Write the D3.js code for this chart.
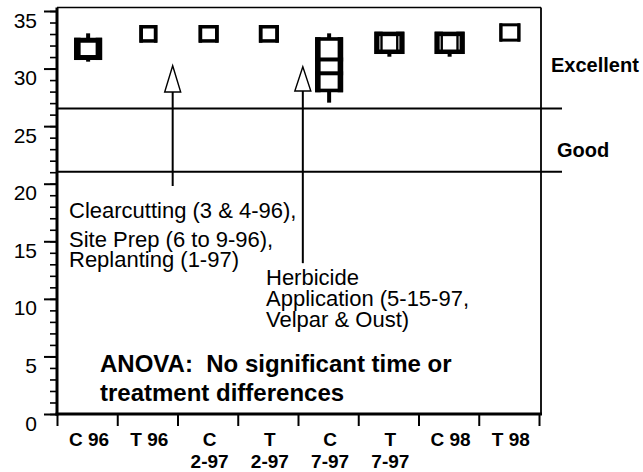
<!DOCTYPE html>
<html>
<head>
<meta charset="utf-8">
<script src="https://cdn.jsdelivr.net/npm/d3@7"></script>
<style>
  html, body { margin: 0; padding: 0; background: #fff; }
  svg { display: block; }
  text { font-family: "Liberation Sans", Arial, sans-serif; fill: #000; }
</style>
</head>
<body>
<svg id="chart" width="643" height="472"></svg>
<script>
// ---------------- data ----------------
const categories = ["C 96", "T 96", "C 2-97", "T 2-97", "C 7-97", "T 7-97", "C 98", "T 98"];
const categoryLabels = [["C 96"], ["T 96"], ["C", "2-97"], ["T", "2-97"], ["C", "7-97"], ["T", "7-97"], ["C 98"], ["T 98"]];
const whiskerHigh = [33.06, 33.63, 33.63, 33.63, 33.06, 33.01, 33.01, 33.80];
const upperQuartile = [32.46, 33.63, 33.63, 33.63, 32.57, 33.01, 33.01, 33.80];
const medianLine = [null, null, null, null, 30.79, null, null, null];
const meanLine = [null, null, null, null, 29.59, null, null, null];
const lowerQuartile = [30.96, 32.40, 32.40, 32.40, 28.10, 31.46, 31.46, 32.47];
const whiskerLow = [30.60, 32.40, 32.40, 32.40, 27.04, 31.03, 31.03, 32.47];
const yMajorTicks = [0, 5, 10, 15, 20, 25, 30, 35];
const yMinorTicks = d3.range(0, 36, 1);
const classBounds = [26.53, 21.04];   // Excellent / Good boundaries

// ---------------- styles (sizes of box symbols) ----------------
const boxStyle = [
  { w: 28, sw: 5,   side: 6.5, dbl: false },
  { w: 18, sw: 3.5, side: 3.5, dbl: false },
  { w: 20, sw: 3.5, side: 3.5, dbl: false },
  { w: 20, sw: 3.5, side: 3.5, dbl: false },
  { w: 28, sw: 3.6, side: 5.5, dbl: false },
  { w: 30, sw: 4.5, side: 8.3, dbl: true  },
  { w: 30, sw: 4.5, side: 8.3, dbl: true  },
  { w: 21, sw: 3,   side: 3,   dbl: false }
];

// ---------------- layout ----------------
const svg = d3.select("#chart");
const X0 = 57, X1 = 539, FRAME_R = 541;
const y = d3.scaleLinear().domain([0, 35]).range([414, 11]);
const x = d3.scaleBand().domain(categories).range([X0, X1]).padding(0);
const xi = d3.scaleLinear().domain([0, categories.length]).range([X0, X1]);
const yTop = y(35.3);

// frame (top and right)
svg.append("line").attr("x1", X0).attr("x2", FRAME_R).attr("y1", yTop).attr("y2", yTop)
  .attr("stroke", "#000").attr("stroke-width", 1.6);
svg.append("line").attr("x1", FRAME_R).attr("x2", FRAME_R).attr("y1", yTop).attr("y2", y(0))
  .attr("stroke", "#000").attr("stroke-width", 1.8);

// class boundary lines
svg.selectAll("line.bound").data(classBounds).join("line").attr("class", "bound")
  .attr("x1", X0).attr("x2", 562)
  .attr("y1", d => y(d)).attr("y2", d => y(d))
  .attr("stroke", "#000").attr("stroke-width", 2);

// y axis (minor)
const gMinor = svg.append("g").attr("transform", `translate(${X0},0)`)
  .call(d3.axisLeft(y).tickValues(yMinorTicks).tickSize(7).tickFormat(""));
gMinor.select(".domain").remove();
gMinor.selectAll("line").attr("stroke-width", 1.6);

// y axis (major)
const gMajor = svg.append("g").attr("transform", `translate(${X0},0)`)
  .call(d3.axisLeft(y).tickValues(yMajorTicks).tickSize(13).tickPadding(20).tickFormat(d3.format("d")));
gMajor.select(".domain").remove();
gMajor.selectAll("line").attr("stroke-width", 2);
gMajor.selectAll("text")
  .attr("x", -20).attr("dy", null).attr("y", 16)
  .attr("font-size", 21).attr("font-family", "Liberation Sans, Arial, sans-serif");

// spines
svg.append("line").attr("x1", X0).attr("x2", X0).attr("y1", yTop).attr("y2", y(0) + 1.5)
  .attr("stroke", "#000").attr("stroke-width", 3);
svg.append("line").attr("x1", X0 - 1.5).attr("x2", FRAME_R + 1).attr("y1", y(0)).attr("y2", y(0))
  .attr("stroke", "#000").attr("stroke-width", 3);

// x axis ticks at band edges
const gx = svg.append("g").attr("transform", `translate(0,${y(0)})`)
  .call(d3.axisBottom(xi).tickValues(d3.range(0, categories.length + 1)).tickSize(12).tickFormat(""));
gx.select(".domain").remove();
gx.selectAll("line").attr("stroke-width", 2);

// x labels
const lbl = svg.append("g");
categories.forEach((c, i) => {
  const cx = x(c) + x.bandwidth() / 2 + 2;
  const t = lbl.append("text").attr("x", cx).attr("y", 446)
    .attr("text-anchor", "middle").attr("font-size", 19).attr("font-weight", "bold");
  categoryLabels[i].forEach((line, j) => {
    t.append("tspan").attr("x", cx).attr("y", 446 + j * 22).text(line);
  });
});

// box plots
const boxes = svg.append("g");
categories.forEach((c, i) => {
  const st = boxStyle[i];
  const cx = x(c) + x.bandwidth() / 2 + 1;
  const yq3 = y(upperQuartile[i]), yq1 = y(lowerQuartile[i]);
  // whiskers
  if (whiskerHigh[i] > upperQuartile[i])
    boxes.append("line").attr("x1", cx).attr("x2", cx).attr("y1", y(whiskerHigh[i])).attr("y2", yq3)
      .attr("stroke", "#000").attr("stroke-width", 4);
  if (whiskerLow[i] < lowerQuartile[i])
    boxes.append("line").attr("x1", cx).attr("x2", cx).attr("y1", yq1).attr("y2", y(whiskerLow[i]))
      .attr("stroke", "#000").attr("stroke-width", 4);
  // box
  boxes.append("rect")
    .attr("x", cx - (st.w - st.sw) / 2).attr("width", st.w - st.sw)
    .attr("y", yq3).attr("height", yq1 - yq3)
    .attr("fill", "#fff").attr("stroke", "#000").attr("stroke-width", st.sw);
  // thick side walls
  const top = yq3 - st.sw / 2, h = (yq1 - yq3) + st.sw;
  boxes.append("rect").attr("x", cx - st.w / 2).attr("y", top).attr("width", st.side).attr("height", h).attr("fill", "#000");
  boxes.append("rect").attr("x", cx + st.w / 2 - st.side).attr("y", top).attr("width", st.side).attr("height", h).attr("fill", "#000");
  if (st.dbl) {
    [cx - st.w / 2 + 5.5, cx + st.w / 2 - 5.5].forEach(lx => {
      boxes.append("line").attr("x1", lx).attr("x2", lx)
        .attr("y1", top + st.sw).attr("y2", top + h - st.sw)
        .attr("stroke", "#fff").attr("stroke-width", 0.9);
    });
  }
  // inner lines (median, mean)
  [medianLine[i], meanLine[i]].forEach(v => {
    if (v == null) return;
    boxes.append("line").attr("x1", cx - st.w / 2).attr("x2", cx + st.w / 2)
      .attr("y1", y(v)).attr("y2", y(v)).attr("stroke", "#000").attr("stroke-width", 4);
  });
});

// ---------------- annotations ----------------
const arrows = [
  { pos: 1.92, tip: 30.25, head: 27.97, end: 19.8 },
  { pos: 4.08, tip: 30.16, head: 28.05, end: 13.1 }
];
arrows.forEach(a => {
  const ax = xi(a.pos);
  svg.append("line").attr("x1", ax).attr("x2", ax).attr("y1", y(a.head)).attr("y2", y(a.end))
    .attr("stroke", "#000").attr("stroke-width", 2);
  svg.append("path")
    .attr("d", `M${ax},${y(a.tip)} L${ax - 8},${y(a.head)} L${ax + 8},${y(a.head)} Z`)
    .attr("fill", "#fff").attr("stroke", "#000").attr("stroke-width", 1.4);
});

const notes = [
  { x: 69, lines: [["Clearcutting (3 & 4-96),", 218], ["Site Prep (6 to 9-96),", 246.5], ["Replanting (1-97)", 267]], size: 22, bold: false },
  { x: 266, lines: [["Herbicide", 285], ["Application (5-15-97,", 306], ["Velpar & Oust)", 327]], size: 22, bold: false },
  { x: 100, lines: [["ANOVA:  No significant time or", 372], ["treatment differences", 401]], size: 24, bold: true },
  { x: 551, lines: [["Excellent", 72]], size: 20, bold: true },
  { x: 557, lines: [["Good", 157]], size: 20, bold: true }
];
notes.forEach(n => {
  n.lines.forEach(([txt, by]) => {
    svg.append("text").attr("x", n.x).attr("y", by)
      .attr("font-size", n.size).attr("font-weight", n.bold ? "bold" : "normal")
      .attr("xml:space", "preserve").style("white-space", "pre")
      .text(txt);
  });
});
</script>
</body>
</html>
